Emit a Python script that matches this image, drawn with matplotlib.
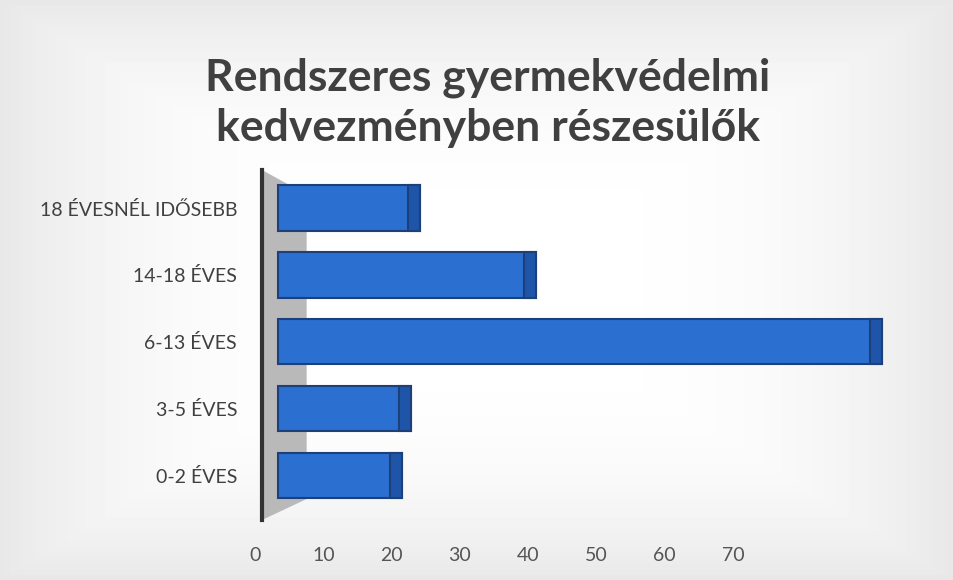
import matplotlib
matplotlib.use('Agg')  # no display here
import matplotlib.pyplot as plt
from matplotlib.patches import Polygon
import numpy as np

# data (bottom to top)
categories = ['0-2 ÉVES', '3-5 ÉVES', '6-13 ÉVES', '14-18 ÉVES', '18 ÉVESNÉL IDŐSEBB']
values = [14, 15, 68, 29, 16]
xticks = [0, 10, 20, 30, 40, 50, 60, 70]

title = 'Rendszeres gyermekvédelmi\nkedvezményben részesülők'

plt.rcParams['font.family'] = ['Lato', 'DejaVu Sans']

W, H = 954, 580
fig = plt.figure(figsize=(W / 100, H / 100), dpi=100)
fig.patch.set_facecolor('#eceeef')

# scanned-paper background: light in the middle, greyer at the edges
bg = fig.add_axes([0, 0, 1, 1], zorder=-10)
gx, gy = np.meshgrid(np.linspace(-1, 1, 200), np.linspace(-1, 1, 120))
shade = 1 - 0.09 * np.clip(np.maximum(np.abs(gx) ** 3, np.abs(gy) ** 3), 0, 1)
bg.imshow(shade, cmap='gray', vmin=0, vmax=1, aspect='auto', extent=[0, 1, 0, 1])
bg.set_axis_off()

# plot area: left spine at x=262, top 170, bottom 520 (pixels)
ax = fig.add_axes([262 / W, (H - 520) / H, (900 - 262) / W, 350 / H])
ax.set_facecolor('none')
ax.set_xlim(-1.8, 70)
ax.set_ylim(-0.67, 4.57)

# grey side wall
wall = Polygon([(0, 1), (0.07, 0.93), (0.07, 0.06), (0, 0)], closed=True,
               transform=ax.transAxes, facecolor='#b9b9b9', edgecolor='none', zorder=0)
ax.add_patch(wall)

ypos = list(range(len(categories)))
bar_h = 0.68
side = 1.35  # width of the darker end face, data units

ax.barh(ypos, values, height=bar_h, color='#2b6fd0', edgecolor='#1d3f7a',
        linewidth=1.5, zorder=2)
# darker end face to fake the 3D look
ax.barh(ypos, [side] * len(values), left=[v - side for v in values], height=bar_h,
        color='#1f55a8', edgecolor='#1d3f7a', linewidth=1.5, zorder=3)

ax.set_yticks(ypos)
ax.set_yticklabels(categories, fontsize=14, color='#404040')
ax.tick_params(axis='y', length=0, pad=18)
ax.set_xticks([])
for s in ['top', 'right', 'bottom']:
    ax.spines[s].set_visible(False)
ax.spines['left'].set_color('#333333')
ax.spines['left'].set_linewidth(3)

# the x labels sit on the front edge of the floor, which is narrower
ax2 = fig.add_axes([255 / W, (H - 530) / H, (733 - 255) / W, 0.001])
ax2.set_xlim(0, 70)
ax2.set_xticks(xticks)
ax2.set_xticklabels([str(t) for t in xticks], fontsize=14, color='#555555')
ax2.tick_params(axis='x', length=0, pad=12)
ax2.set_yticks([])
ax2.set_facecolor('none')
for s in ax2.spines.values():
    s.set_visible(False)

fig.text(488 / W, 1 - 103 / H, title, ha='center', va='center', fontsize=32,
         fontweight='bold', color='#404040', linespacing=1.3)

fig.savefig('out.png', dpi=100, facecolor=fig.get_facecolor())
